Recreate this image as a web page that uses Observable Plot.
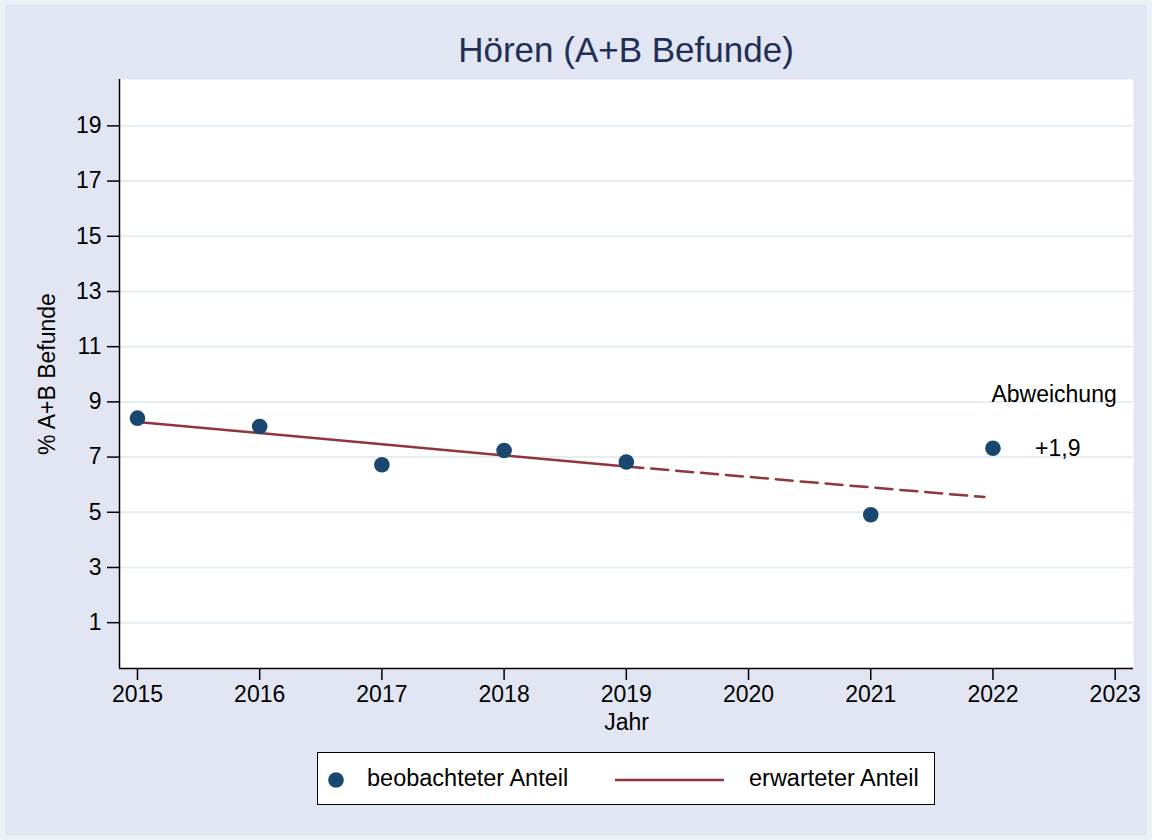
<!DOCTYPE html>
<html>
<head>
<meta charset="utf-8">
<script src="https://cdn.jsdelivr.net/npm/d3@7"></script>
<script src="https://cdn.jsdelivr.net/npm/@observablehq/plot@0.6"></script>
<style>
  html, body { margin: 0; padding: 0; }
  body { width: 1152px; height: 840px; overflow: hidden; font-family: "Liberation Sans", Arial, sans-serif; }
  #wrap { position: relative; width: 1152px; height: 840px; background: #E2E6F2; box-sizing: border-box; border: 5px solid #EDF0F6; }
  #title { position: absolute; left: 114px; width: 1014px; top: 25px; text-align: center; font-size: 35px; color: #1F2F56; line-height: 40px; white-space: nowrap; }
  #chart { position: absolute; left: -5px; top: -5px; width: 1152px; height: 745px; }
  #chart svg { max-width: none; }
  #legend { position: absolute; left: 312px; top: 747px; width: 618px; height: 53px; background: #fff; border: 1.5px solid #000; box-sizing: border-box; font-size: 23.5px; color: #000; }
  .li { position: absolute; top: 0; height: 50px; line-height: 50px; white-space: nowrap; }
</style>
</head>
<body>
<div id="wrap">
  <div id="title">Hören (A+B Befunde)</div>
  <div id="chart"></div>
  <div id="legend"></div>
</div>
<script>
// ---- data ----
const years = [2015, 2016, 2017, 2018, 2019, 2021, 2022];
const observed = [8.41, 8.11, 6.72, 7.24, 6.82, 4.91, 7.32];

const fitYears = [2015, 2019];
const fitValues = [8.27, 6.66];

const forecastYears = [2019, 2021.93];
const forecastValues = [6.66, 5.55];

const yTicks = [1, 3, 5, 7, 9, 11, 13, 15, 17, 19];
const xTicks = [2015, 2016, 2017, 2018, 2019, 2020, 2021, 2022, 2023];

const noteLabels = ["Abweichung", "+1,9"];
const noteX = [2022.5, 2022.53];
const noteY = [9.27, 7.32];

const legendLabels = ["beobachteter Anteil", "erwarteter Anteil"];

// ---- styles ----
const navy = "#1A476F";
const maroon = "#90353B";
const xDomain = [2014.853, 2023.15];
const yDomain = [-0.66, 20.68];

const obsData = years.map((y, i) => ({x: y, v: observed[i]}));
const fitData = fitYears.map((y, i) => ({x: y, v: fitValues[i]}));
const fcData = forecastYears.map((y, i) => ({x: y, v: forecastValues[i]}));
const notes = noteLabels.map((t, i) => ({t, x: noteX[i], y: noteY[i]}));

const chart = Plot.plot({
  width: 1152,
  height: 745,
  marginTop: 79,
  marginLeft: 119,
  marginRight: 19,
  marginBottom: 77,
  style: {background: "transparent", fontSize: "23px", fontFamily: "'Liberation Sans', Arial, sans-serif", color: "#000"},
  x: {domain: xDomain},
  y: {domain: yDomain},
  marks: [
    Plot.frame({fill: "white", stroke: null}),
    Plot.gridY(yTicks, {stroke: "#E4EEF1", strokeOpacity: 1, strokeWidth: 2}),
    Plot.ruleX([xDomain[0]], {stroke: "#000", strokeWidth: 1.5}),
    Plot.ruleY([yDomain[0]], {stroke: "#000", strokeWidth: 1.5}),
    Plot.axisY(yTicks, {tickSize: 12, tickPadding: 6, strokeWidth: 1.5, tickFormat: d => String(d),
      label: "% A+B Befunde", labelArrow: "none", labelAnchor: "center", labelOffset: 81}),
    Plot.axisX(xTicks, {tickSize: 12, tickPadding: 5, strokeWidth: 1.5, tickFormat: d => String(d),
      label: "Jahr", labelArrow: "none", labelAnchor: "center", labelOffset: 61}),
    Plot.line(fitData, {x: "x", y: "v", stroke: maroon, strokeWidth: 2.5}),
    Plot.line(fcData, {x: "x", y: "v", stroke: maroon, strokeWidth: 2.5, strokeDasharray: "17,8"}),
    Plot.dot(obsData, {x: "x", y: "v", r: 7.8, fill: navy, stroke: null}),
    Plot.text(notes, {x: "x", y: "y", text: "t", fontSize: 23, fill: "#000", textAnchor: "middle"})
  ]
});
document.getElementById("chart").appendChild(chart);

// legend
const lg = document.getElementById("legend");
lg.innerHTML = `
  <svg style="position:absolute;left:0;top:0" width="615" height="50">
    <circle cx="18" cy="27" r="7.8" fill="${navy}"></circle>
    <line x1="297" x2="406" y1="27" y2="27" stroke="${maroon}" stroke-width="2.5"></line>
  </svg>
  <div class="li" style="left:49px">${legendLabels[0]}</div>
  <div class="li" style="left:431px">${legendLabels[1]}</div>`;
</script>
</body>
</html>
